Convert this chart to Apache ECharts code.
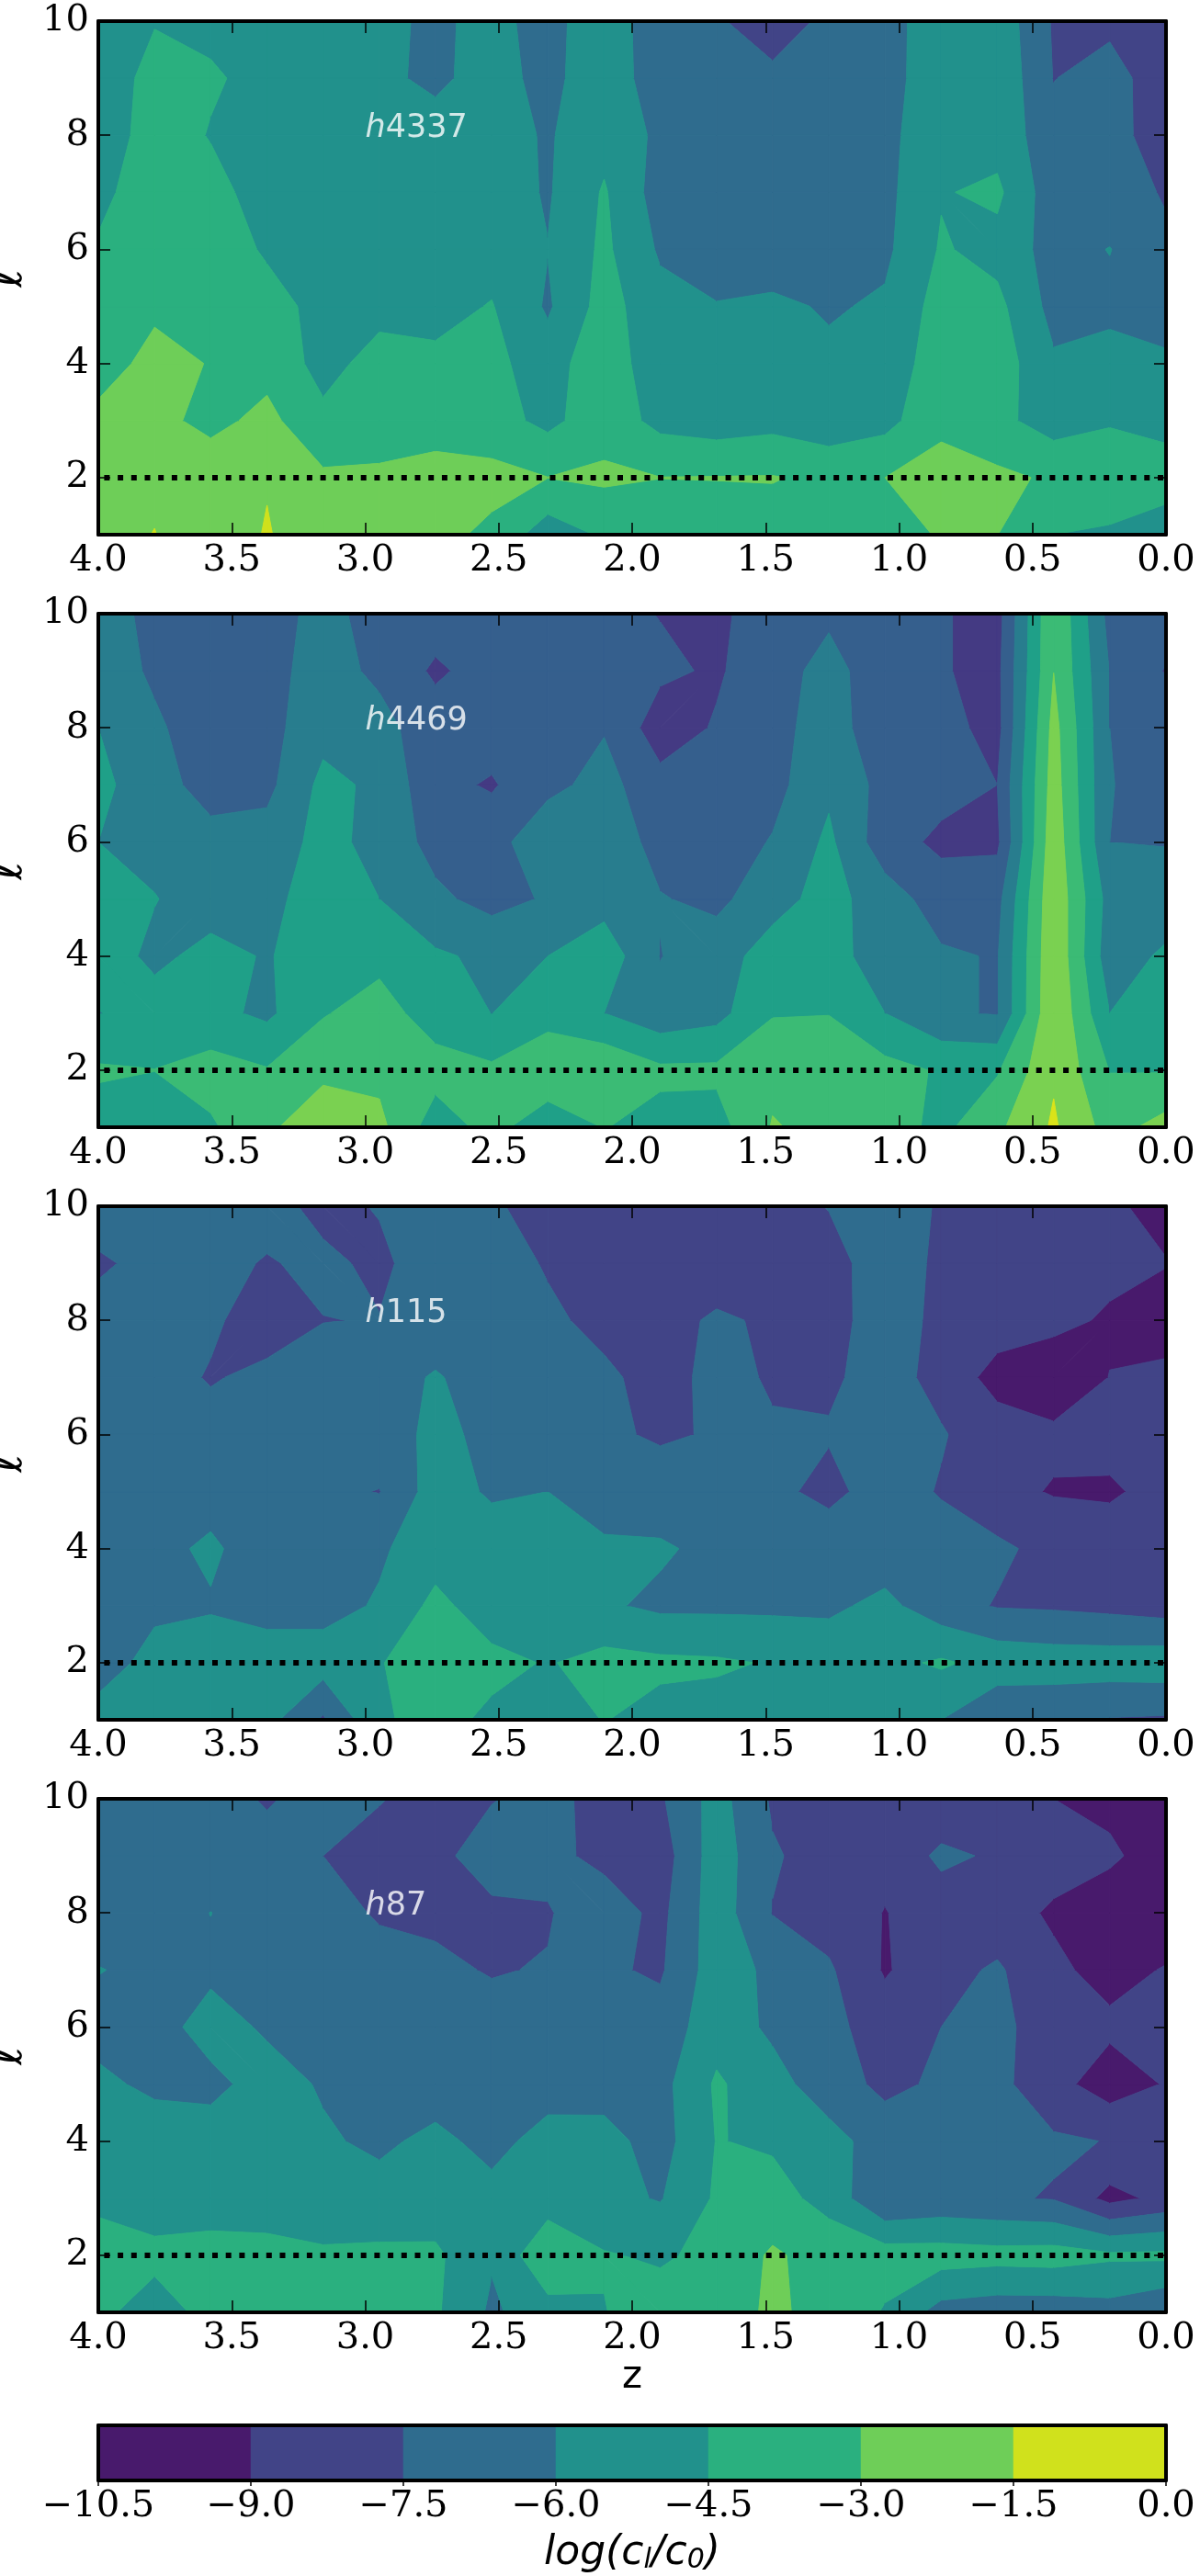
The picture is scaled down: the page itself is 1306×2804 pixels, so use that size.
<!DOCTYPE html>
<html><head><meta charset="utf-8">
<style>html,body{margin:0;padding:0;background:#fff}#c{width:1306px;height:2804px}</style>
<script src="https://cdn.jsdelivr.net/npm/echarts@6/dist/echarts.min.js"></script>
</head><body><div id="c"></div>
<script>
const zValues=[4.0,3.789,3.579,3.368,3.158,2.947,2.737,2.526,2.316,2.105,1.895,1.684,1.474,1.263,1.053,0.842,0.632,0.421,0.211,0.0];
const lValues=[1,2,3,4,5,6,7,8,9,10];
const levels=[-12,-10.5,-9,-7.5,-6,-4.5,-3,-1.5,0];
const colorsSeven=['#481a6c','#481a6c','#414487','#2f6c8e','#21918c','#2ab07f','#6ece58','#d0e11c'];
const colorsEight=['#471365','#443a83','#355f8d','#287d8e','#1fa088','#3bbb75','#7ad151','#dae319'];
const yTicks=[2,4,6,8,10];
const panelNames=['4337','4469','115','87'];
const h4337=[
[-2.2,-1.45,-2.9,-1.34,-2.95,-2.3,-2.6,-3.3,-5.35,-4.3,-4.0,-3.9,-3.7,-3.8,-3.5,-2.9,-2.98,-4.5,-4.65,-4.85],
[-2.0,-1.9,-2.1,-1.65,-2.75,-2.8,-2.66,-2.55,-2.98,-2.74,-2.98,-2.95,-2.92,-3.3,-3.0,-2.5,-2.7,-3.2,-3.8,-4.2],
[-2.7,-2.6,-3.4,-2.6,-4.15,-3.6,-3.4,-3.9,-4.9,-3.6,-4.96,-5.3,-5.0,-5.5,-5.0,-3.3,-4.1,-5.2,-4.6,-4.7],
[-3.5,-2.65,-3.05,-3.5,-5.0,-3.95,-4.2,-4.1,-5.3,-3.3,-5.8,-5.7,-5.6,-5.7,-5.4,-3.7,-3.7,-5.8,-5.4,-5.75],
[-3.9,-3.2,-3.3,-3.9,-5.0,-4.95,-4.95,-4.42,-6.2,-3.9,-5.5,-5.9,-5.7,-6.15,-5.8,-3.9,-4.1,-6.5,-6.4,-6.7],
[-4.29,-3.3,-3.6,-4.7,-5.2,-5.2,-5.1,-5.1,-5.96,-4.2,-6.2,-7.0,-6.9,-6.9,-6.3,-4.35,-5.0,-6.6,-5.95,-7.3],
[-5.0,-3.4,-3.9,-5.3,-5.4,-5.3,-5.2,-5.2,-6.15,-4.35,-6.7,-7.0,-7.1,-7.0,-6.4,-4.6,-4.2,-6.9,-7.0,-7.6],
[-5.7,-3.6,-4.6,-5.0,-5.4,-5.3,-5.4,-5.4,-6.15,-5.0,-6.3,-7.2,-7.3,-7.2,-6.4,-5.0,-5.1,-6.9,-7.0,-8.2],
[-5.6,-3.9,-4.3,-5.0,-5.4,-5.7,-6.3,-5.4,-6.5,-4.9,-7.0,-7.3,-7.3,-7.2,-6.5,-5.2,-4.8,-7.55,-6.8,-8.55],
[-5.4,-4.6,-4.9,-5.2,-5.4,-5.62,-6.3,-5.5,-6.66,-4.77,-7.23,-7.4,-7.95,-7.3,-6.5,-5.25,-5.0,-7.66,-7.9,-8.0]];
const h4469=[
[-5.2,-5.4,-4.7,-3.4,-1.6,-2.6,-5.3,-4.0,-5.5,-4.45,-5.0,-5.1,-2.9,-3.4,-3.8,-4.9,-3.3,-1.3,-3.6,-2.4],
[-4.3,-4.48,-3.9,-4.4,-3.5,-3.4,-3.9,-4.24,-3.3,-3.2,-4.2,-4.2,-3.4,-3.3,-4.0,-4.65,-4.65,-1.7,-4.55,-4.6],
[-6.05,-5.4,-5.6,-6.3,-4.6,-3.9,-5.2,-6.02,-5.1,-6.0,-7.0,-6.5,-4.6,-4.55,-6.0,-7.3,-7.6,-1.6,-6.0,-5.3],
[-5.3,-6.3,-5.6,-6.1,-5.3,-4.9,-5.8,-6.3,-6.0,-5.1,-7.55,-6.6,-5.4,-5.1,-7.2,-7.3,-7.6,-1.7,-6.9,-5.7],
[-5.5,-5.95,-6.6,-6.4,-5.3,-6.0,-7.2,-8.0,-7.35,-6.6,-7.4,-7.9,-6.5,-5.5,-6.75,-8.25,-8.0,-1.8,-6.6,-7.0],
[-6.0,-6.4,-7.0,-6.9,-5.5,-6.5,-8.0,-8.1,-6.4,-6.3,-8.15,-8.3,-7.4,-5.7,-8.4,-9.3,-9.3,-2.0,-7.5,-7.55],
[-5.6,-6.9,-8.1,-7.9,-5.6,-6.3,-8.6,-9.15,-7.9,-7.0,-8.5,-8.98,-8.0,-6.3,-8.0,-8.5,-9.0,-2.3,-7.45,-8.0],
[-6.0,-7.3,-8.2,-8.0,-6.5,-7.1,-8.2,-8.3,-7.9,-7.6,-9.8,-8.85,-8.0,-6.8,-8.5,-8.5,-9.5,-2.5,-7.5,-8.1],
[-6.8,-7.7,-8.2,-7.9,-7.0,-7.75,-9.26,-8.3,-8.6,-8.6,-8.7,-9.2,-8.0,-7.1,-8.2,-8.9,-9.4,-3.02,-7.55,-9.1],
[-7.0,-7.8,-8.1,-7.9,-7.2,-7.88,-8.2,-8.4,-8.5,-8.6,-9.05,-9.2,-8.5,-7.7,-8.4,-8.85,-9.6,-3.05,-8.0,-8.2]];
const h115=[
[-5.4,-5.3,-5.4,-5.5,-7.7,-4.7,-4.0,-4.8,-5.2,-4.45,-5.0,-5.1,-5.2,-5.3,-5.5,-6.0,-7.52,-7.3,-7.6,-7.7],
[-6.7,-5.5,-5.2,-5.3,-5.3,-4.55,-4.0,-4.1,-4.6,-4.0,-4.2,-4.3,-4.6,-5.0,-4.9,-4.3,-5.0,-5.2,-5.2,-5.1],
[-6.6,-6.3,-6.15,-6.5,-6.5,-5.85,-4.1,-5.3,-5.0,-5.8,-6.3,-6.3,-6.3,-6.3,-5.6,-6.9,-7.6,-7.7,-7.9,-8.2],
[-6.7,-6.5,-5.7,-7.0,-7.0,-6.2,-5.2,-5.2,-5.4,-5.8,-5.8,-6.4,-6.6,-6.7,-6.9,-6.9,-7.2,-8.0,-8.2,-8.3],
[-6.8,-6.8,-6.7,-6.9,-7.2,-7.55,-5.3,-6.2,-6.0,-6.6,-6.9,-7.0,-7.2,-7.85,-6.9,-7.6,-8.6,-9.1,-9.2,-8.5],
[-6.7,-6.8,-7.0,-7.45,-6.9,-6.6,-5.7,-6.3,-7.0,-7.3,-7.65,-7.4,-7.4,-7.4,-6.8,-7.4,-8.2,-8.7,-8.5,-8.2],
[-6.8,-7.0,-7.6,-7.2,-6.9,-6.7,-5.85,-6.8,-7.2,-7.3,-7.9,-7.2,-7.6,-7.7,-7.0,-7.9,-9.6,-10.0,-8.97,-8.7],
[-7.0,-6.9,-7.3,-8.1,-7.53,-7.45,-7.0,-7.1,-7.3,-7.8,-8.0,-7.3,-7.7,-7.8,-7.1,-7.7,-8.2,-8.6,-9.2,-9.6],
[-7.7,-7.1,-7.1,-7.6,-7.2,-7.8,-6.7,-7.0,-7.6,-8.0,-8.2,-8.3,-8.2,-8.0,-6.8,-7.75,-8.2,-8.4,-8.6,-8.95],
[-6.8,-6.8,-6.9,-7.0,-7.9,-7.4,-7.2,-7.4,-7.8,-8.0,-8.2,-8.2,-8.0,-7.45,-7.0,-7.6,-8.2,-8.4,-8.8,-9.4]];
const h87=[
[-4.2,-5.1,-4.1,-3.9,-3.9,-3.8,-4.3,-6.25,-5.1,-4.55,-3.8,-3.3,-2.9,-3.2,-4.65,-6.6,-6.9,-6.9,-6.6,-7.4],
[-3.7,-4.15,-3.9,-4.0,-4.32,-4.23,-4.22,-5.85,-3.2,-4.4,-4.7,-4.1,-2.8,-3.6,-3.75,-3.8,-3.95,-3.85,-4.25,-4.2],
[-4.9,-5.2,-5.3,-5.3,-5.3,-5.4,-5.4,-5.5,-5.3,-5.6,-6.1,-4.3,-3.95,-5.0,-7.5,-7.1,-7.3,-7.6,-9.45,-8.6],
[-5.2,-5.2,-5.3,-5.5,-5.8,-6.3,-5.6,-6.5,-5.4,-5.5,-6.6,-4.45,-4.7,-5.4,-6.8,-7.0,-7.1,-7.3,-7.55,-8.2],
[-5.7,-6.3,-6.4,-5.4,-6.15,-6.5,-6.8,-6.8,-6.7,-6.6,-6.5,-4.3,-5.4,-6.9,-7.8,-7.3,-7.1,-8.5,-9.75,-8.9],
[-6.5,-6.6,-5.4,-6.2,-6.7,-6.9,-7.1,-7.1,-7.0,-6.9,-6.9,-5.1,-6.3,-7.1,-8.2,-7.5,-7.25,-8.0,-8.7,-8.4],
[-5.95,-6.3,-6.3,-6.5,-6.9,-7.1,-7.3,-7.57,-7.43,-7.3,-7.7,-5.2,-6.35,-7.3,-9.15,-8.0,-7.3,-8.7,-9.5,-8.9],
[-6.7,-6.7,-5.98,-6.7,-7.1,-7.61,-7.7,-7.9,-7.6,-6.7,-7.9,-5.2,-7.55,-8.2,-9.05,-8.3,-8.4,-9.2,-9.7,-10.0],
[-6.7,-6.8,-6.9,-7.1,-7.5,-8.2,-8.0,-6.6,-7.1,-7.9,-8.3,-5.2,-7.35,-8.1,-8.6,-7.2,-7.7,-8.4,-8.8,-9.6],
[-6.8,-6.9,-7.1,-7.6,-7.1,-7.4,-8.17,-7.6,-6.9,-8.2,-7.7,-5.4,-7.7,-8.2,-9.0,-8.6,-8.5,-9.0,-9.3,-9.8]];
const panelValues=[h4337,h4469,h115,h87];
const panelColors=[colorsSeven,colorsEight,colorsSeven,colorsSeven];
const panelTops=[23,668,1313,1958];
const panelHeight=559, leftEdge=107, plotWidth=1162;
const serif='"DejaVu Serif"', sans='"DejaVu Sans"', tickFont=40;

function clip(poly,level,above){
  const out=[];
  for(let i=0;i<poly.length;i++){
    const a=poly[i],b=poly[(i+1)%poly.length];
    const ia=above?a[2]>=level:a[2]<level, ib=above?b[2]>=level:b[2]<level;
    if(ia) out.push(a);
    if(ia!==ib){const t=(level-a[2])/(b[2]-a[2]);out.push([a[0]+t*(b[0]-a[0]),a[1]+t*(b[1]-a[1]),level]);}
  }
  return out;
}
function isSaddle(q,lv){
  const s=q.map(p=>p[2]>=lv);
  return s[0]===s[2]&&s[1]===s[3]&&s[0]!==s[1];
}
function splitCell(q){
  const mean=(q[0][2]+q[1][2]+q[2][2]+q[3][2])/4;
  for(const lv of levels){
    if(isSaddle(q,lv)){
      const firstPairHigh=q[0][2]>=lv, centreHigh=mean>=lv;
      return firstPairHigh===centreHigh?[[q[0],q[1],q[2]],[q[0],q[2],q[3]]]:[[q[1],q[2],q[3]],[q[1],q[3],q[0]]];
    }
  }
  return [q];
}
function cellRenderer(vals,cols){
  return function(params,api){
    const ci=api.value(2),ri=api.value(3);
    const q=[[zValues[ci],lValues[ri],vals[ri][ci]],[zValues[ci+1],lValues[ri],vals[ri][ci+1]],
             [zValues[ci+1],lValues[ri+1],vals[ri+1][ci+1]],[zValues[ci],lValues[ri+1],vals[ri+1][ci]]];
    const pieces=splitCell(q);
    const children=[];
    for(let b=0;b<cols.length;b++){
      const lo=levels[b],hi=levels[b+1];
      for(const pc of pieces){
        let p=clip(pc,lo,true);
        if(p.length>2) p=clip(p,hi,false);
        if(p.length>2) children.push({type:'polygon',shape:{points:p.map(v=>api.coord([v[0],v[1]]))},
          style:{fill:cols[b],stroke:cols[b],lineWidth:1,lineJoin:'round'},silent:true});
      }
    }
    return {type:'group',children};
  };
}
const grids=[],xAxes=[],yAxes=[],series=[];
const cells=[];
for(let c=0;c<zValues.length-1;c++)for(let r=0;r<lValues.length-1;r++)cells.push([zValues[c],lValues[r],c,r]);
const xBase={type:'value',min:0,max:4,interval:0.5,inverse:true,splitLine:{show:false},z:10,
  axisLine:{show:true,onZero:false,lineStyle:{color:'#000',width:4}},
  axisTick:{show:true,inside:true,length:13,lineStyle:{color:'#000',width:1.5}}};
const yBase={type:'value',min:1,max:10,splitLine:{show:false},z:10,
  axisLine:{show:true,onZero:false,lineStyle:{color:'#000',width:4}},
  axisTick:{show:true,inside:true,length:13,customValues:yTicks,lineStyle:{color:'#000',width:1.5}}};
panelNames.forEach((name,p)=>{
  grids.push({left:leftEdge,width:plotWidth,top:panelTops[p],height:panelHeight,outerBoundsMode:'none'});
  const bx=xAxes.length,by=yAxes.length;
  const xa=Object.assign({},xBase,{gridIndex:p,position:'bottom',
    axisLabel:{show:true,margin:9,color:'#000',fontFamily:serif,fontSize:tickFont,formatter:v=>v.toFixed(1)}});
  if(p===3)Object.assign(xa,{name:'z',nameLocation:'middle',nameGap:48,nameTextStyle:{color:'#000',fontFamily:sans,fontSize:42}});
  xAxes.push(xa);
  xAxes.push(Object.assign({},xBase,{gridIndex:p,position:'top',axisLabel:{show:false}}));
  yAxes.push(Object.assign({},yBase,{gridIndex:p,position:'left',name:'ℓ',nameLocation:'middle',nameGap:52,nameRotate:90,
    nameTextStyle:{color:'#000',fontFamily:sans,fontStyle:'italic',fontSize:50},
    axisLabel:{show:true,margin:10,color:'#000',fontFamily:serif,fontSize:tickFont,customValues:yTicks}}));
  yAxes.push(Object.assign({},yBase,{gridIndex:p,position:'right',axisLabel:{show:false}}));
  series.push({type:'custom',xAxisIndex:bx,yAxisIndex:by,data:cells,encode:{x:0,y:1},clip:true,silent:true,z:2,
    renderItem:cellRenderer(panelValues[p],panelColors[p])});
  series.push({type:'line',xAxisIndex:bx,yAxisIndex:by,data:[[4,2],[0,2]],symbol:'none',silent:true,z:5,
    lineStyle:{color:'#000',width:6,type:[6,8.7],dashOffset:8.3,cap:'butt'}});
  series.push({type:'scatter',xAxisIndex:bx,yAxisIndex:by,data:[[3,8]],symbolSize:0,silent:true,z:6,
    label:{show:true,position:[0,0],align:'left',verticalAlign:'bottom',offset:[0,10],color:'#fff',
      formatter:'{i|h}{n|'+name+'}',
      rich:{i:{fontFamily:sans,fontStyle:'italic',fontSize:35,color:'#fff'},n:{fontFamily:sans,fontSize:35,color:'#fff'}}}});
});
// colour bar
const cbIdx=4;
grids.push({left:leftEdge,width:plotWidth,top:2640,height:60,outerBoundsMode:'none'});
const cbX=xAxes.length,cbY=yAxes.length;
const cbLine={show:true,onZero:false,lineStyle:{color:'#000',width:4}};
xAxes.push({type:'value',gridIndex:cbIdx,position:'bottom',min:-10.5,max:0,interval:1.5,splitLine:{show:false},z:10,axisLine:cbLine,
  axisTick:{show:true,inside:false,length:6,lineStyle:{color:'#000',width:1.5}},
  axisLabel:{show:true,margin:9,color:'#000',fontFamily:serif,fontSize:tickFont,formatter:v=>(v<0?'−':'')+Math.abs(v).toFixed(1)},
  name:'{a|log(c}{s|l}{a|/c}{s|0}{a|)}',nameLocation:'middle',nameGap:58,
  nameTextStyle:{rich:{a:{fontFamily:sans,fontStyle:'italic',fontSize:44,color:'#000'},
    s:{fontFamily:sans,fontStyle:'italic',fontSize:30,color:'#000',verticalAlign:'bottom',padding:[12,0,0,0]}}}});
xAxes.push({type:'value',gridIndex:cbIdx,position:'top',min:-10.5,max:0,interval:1.5,splitLine:{show:false},z:10,axisLine:cbLine,axisTick:{show:false},axisLabel:{show:false}});
yAxes.push({type:'value',gridIndex:cbIdx,position:'left',min:0,max:1,splitLine:{show:false},z:10,axisLine:cbLine,axisTick:{show:false},axisLabel:{show:false}});
yAxes.push({type:'value',gridIndex:cbIdx,position:'right',min:0,max:1,splitLine:{show:false},z:10,axisLine:cbLine,axisTick:{show:false},axisLabel:{show:false}});
series.push({type:'custom',xAxisIndex:cbX,yAxisIndex:cbY,silent:true,z:2,clip:true,encode:{x:0,y:1},
  data:levels.slice(1,-1).map((lv,i)=>[lv,0,i+1]),
  renderItem:(params,api)=>{
    const b=api.value(2),p0=api.coord([levels[b],1]),p1=api.coord([levels[b+1],0]);
    return {type:'rect',shape:{x:p0[0],y:p0[1],width:p1[0]-p0[0],height:p1[1]-p0[1]},style:{fill:colorsSeven[b],stroke:colorsSeven[b],lineWidth:0.5}};
  }});
const chart=echarts.init(document.getElementById('c'),null,{renderer:'canvas'});
chart.setOption({animation:false,backgroundColor:'#fff',grid:grids,xAxis:xAxes,yAxis:yAxes,series});
</script></body></html>
